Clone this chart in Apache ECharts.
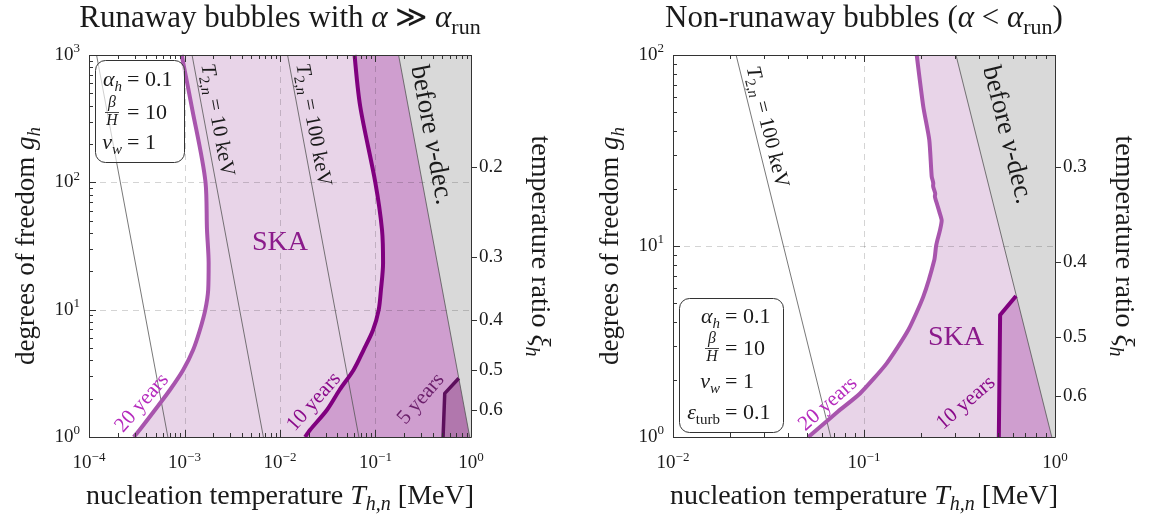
<!DOCTYPE html>
<html><head><meta charset="utf-8">
<script src="https://cdn.jsdelivr.net/npm/echarts@6/dist/echarts.min.js"></script>
<style>html,body{margin:0;padding:0;background:#fff}#c{width:1149px;height:525px}</style>
</head><body><div id="c"></div>
<script>
// ---------------- data (T in MeV, g = degrees of freedom) ----------------
// Left panel: runaway bubbles
const L_xRange = [1e-4, 1];
const L_yRange = [1, 1000];
const L_curve20 = [[9.33e-4,1000],[1.19e-3,394],[1.66e-3,100],[1.72e-3,42.3],[1.79e-3,23.3],[1.77e-3,14.3],[1.65e-3,9.95],[1.45e-3,6.92],[1.23e-3,4.82],[9.68e-4,3.36],[7.03e-4,2.34],[4.90e-4,1.63],[3.40e-4,1.14],[2.94e-4,1.0]];
const L_curve10 = [[6.04e-2,1000],[6.92e-2,394],[9.95e-2,100],[0.117,42.3],[0.120,23.3],[0.114,14.3],[0.108,9.95],[0.0942,6.92],[0.0750,4.82],[0.0589,3.36],[0.0420,2.34],[0.0310,1.63],[0.0207,1.14],[0.0183,1.0]];
const L_curve5 = [[0.510,1],[0.531,2.20],[0.745,2.89]];
const L_nuDec = [[0.1745,1000],[0.970,1]];
const L_T1keV = [[1.2e-4,1000],[6.7e-4,1]];
const L_T10keV = [[1.2e-3,1000],[6.7e-3,1]];
const L_T100keV = [[1.2e-2,1000],[6.7e-2,1]];
const L_xiLabels = ['0.2','0.3','0.4','0.5','0.6'];
const L_xiAtG = [132.8, 26.1, 8.3, 3.37, 1.63];

// Right panel: non-runaway bubbles
const R_xRange = [1e-2, 1];
const R_yRange = [1, 100];
const R_curve20 = [[0.1888,100],[0.2044,53.6],[0.2197,35.9],[0.2262,23.1],[0.2305,21.3],[0.2300,20.6],[0.2360,18.8],[0.2350,18.2],[0.2420,16.4],[0.2485,15.0],[0.2551,13.6],[0.2500,12.1],[0.2420,10.7],[0.2382,9.92],[0.2334,8.45],[0.2044,5.43],[0.1705,3.63],[0.1315,2.43],[0.0953,1.69],[0.0731,1.36],[0.0511,1.0]];
const R_curve10 = [[0.508,1],[0.516,4.35],[0.625,5.47]];
const R_nuDec = [[0.303,100],[0.962,1]];
const R_T100keV = [[0.0214,100],[0.067,1]];
const R_xiLabels = ['0.3','0.4','0.5','0.6'];
const R_xiAtG = [26.0, 8.28, 3.35, 1.63];

// ---------------- styling ----------------
const F = "'Liberation Serif','DejaVu Serif',serif";
const C_LIGHT = '#e8d4e8', C_MED = '#cf9ecf', C_DARK = '#b177ad', C_GRAY = '#d9d9d9';
const C_20 = '#a855ad', C_10 = '#80007f', C_5 = '#5c0f5c';
const C_THIN = '#555555';

function rich(s){
  const L = Math.round(s*1.3), ss = Math.round(s*0.7);
  return {
    r:{fontFamily:F,fontSize:s,lineHeight:L},
    i:{fontFamily:F,fontSize:s,lineHeight:L,fontStyle:'italic'},
    sb:{fontFamily:F,fontSize:ss,lineHeight:ss,verticalAlign:'bottom'},
    si:{fontFamily:F,fontSize:ss,lineHeight:ss,verticalAlign:'bottom',fontStyle:'italic'},
    sp:{fontFamily:F,fontSize:ss,lineHeight:ss,verticalAlign:'top'}
  };
}
function txt(x,y,text,size,color,rotDeg,align){
  return {type:'text', x:x, y:y, rotation:(rotDeg||0)*Math.PI/180, z:100, silent:true,
    style:{text:text, rich:rich(size), fontFamily:F, fontSize:size, fill:color||'#1a1a1a',
      align:align||'center', verticalAlign:'middle', textAlign:align||'center', textVerticalAlign:'middle'}};
}

function fillSeries(gi, pts, color, z){
  return {type:'custom', xAxisIndex:gi, yAxisIndex:gi, data:[pts[0]], z:z, silent:true, clip:true, animation:false,
    renderItem:function(p, api){
      return {type:'polygon', shape:{points:pts.map(function(q){return api.coord(q);})}, style:{fill:color}};
    }};
}
function lineSeries(gi, pts, color, width, smooth, z){
  return {type:'line', xAxisIndex:gi, yAxisIndex:gi, data:pts, symbol:'none', showSymbol:false, smooth:smooth,
    lineStyle:{color:color, width:width, cap:'butt', join:'round'}, z:z, silent:true, clip:true, animation:false};
}
function decorSeries(gi, xr, yr, xiG, xiL, kind, z){
  return {type:'custom', xAxisIndex:gi, yAxisIndex:gi, data:[[xr[0],yr[0]]], z:z, silent:true, clip:false, animation:false,
    renderItem:function(p, api){
      const lb = api.coord([xr[0],yr[0]]), rt = api.coord([xr[1],yr[1]]);
      const l=lb[0], b=lb[1], r=rt[0], t=rt[1];
      const ch = [];
      const ex0 = Math.round(Math.log10(xr[0])), ex1 = Math.round(Math.log10(xr[1]));
      const ey0 = Math.round(Math.log10(yr[0])), ey1 = Math.round(Math.log10(yr[1]));
      if (kind === 'grid') {
        const st = {stroke:'rgba(0,0,0,0.17)', lineWidth:1, lineDash:[6,5]};
        for (let e=ex0+1; e<ex1; e++){ const x=Math.round(api.coord([Math.pow(10,e),yr[0]])[0])+0.5;
          ch.push({type:'line', shape:{x1:x,y1:t,x2:x,y2:b}, style:st}); }
        for (let e=ey0+1; e<ey1; e++){ const y=Math.round(api.coord([xr[0],Math.pow(10,e)])[1])+0.5;
          ch.push({type:'line', shape:{x1:l,y1:y,x2:r,y2:y}, style:st}); }
      } else {
        const st = {stroke:'#333', lineWidth:1};
        for (let e=ex0; e<=ex1; e++) for (let k=1; k<=9; k++){
          const v = k*Math.pow(10,e); if (v > xr[1]*1.0001) break;
          const x = Math.round(api.coord([v,yr[0]])[0])+0.5, len = k===1?7:4;
          ch.push({type:'line', shape:{x1:x,y1:b,x2:x,y2:b-len}, style:st});
          ch.push({type:'line', shape:{x1:x,y1:t,x2:x,y2:t+len}, style:st});
        }
        for (let e=ey0; e<=ey1; e++) for (let k=1; k<=9; k++){
          const v = k*Math.pow(10,e); if (v > yr[1]*1.0001) break;
          const y = Math.round(api.coord([xr[0],v])[1])+0.5, len = k===1?7:4;
          ch.push({type:'line', shape:{x1:l,y1:y,x2:l+len,y2:y}, style:st});
        }
        xiG.forEach(function(g, idx){
          const y = Math.round(api.coord([xr[0],g])[1])+0.5;
          ch.push({type:'line', shape:{x1:r,y1:y,x2:r+6,y2:y}, style:st});
          ch.push({type:'text', x:r+8, y:y, style:{text:xiL[idx], fontFamily:F, fontSize:19, fill:'#1a1a1a', align:'left', verticalAlign:'middle', textAlign:'left', textVerticalAlign:'middle'}});
        });
        ch.push({type:'rect', shape:{x:Math.round(l)+0.5, y:Math.round(t)+0.5, width:Math.round(r-l), height:Math.round(b-t)}, style:{fill:null, stroke:'#333', lineWidth:1}});
      }
      return {type:'group', children:ch};
    }};
}

function expLabel(v){ const e = Math.round(Math.log10(v)); return '{b|10}{s|' + (e<0?'−'+(-e):e) + '}'; }
const tickRich = {b:{fontFamily:F,fontSize:19,lineHeight:25,color:'#1a1a1a'}, s:{fontFamily:F,fontSize:13,lineHeight:13,verticalAlign:'top',color:'#1a1a1a'}};

function xAx(gi, r){ return {type:'log', logBase:10, gridIndex:gi, min:r[0], max:r[1],
  axisLine:{show:false}, axisTick:{show:false}, splitLine:{show:false}, minorTick:{show:false},
  axisLabel:{show:true, margin:14, formatter:expLabel, rich:tickRich, fontFamily:F, fontSize:19, color:'#1a1a1a', showMinLabel:true, showMaxLabel:true}}; }
function yAx(gi, r){ return {type:'log', logBase:10, gridIndex:gi, min:r[0], max:r[1],
  axisLine:{show:false}, axisTick:{show:false}, splitLine:{show:false}, minorTick:{show:false},
  axisLabel:{show:true, margin:9, formatter:expLabel, rich:tickRich, fontFamily:F, fontSize:19, color:'#1a1a1a', showMinLabel:true, showMaxLabel:true}}; }

const series = [
  fillSeries(0, L_curve20.concat([[1,1],[1,1000]]), C_LIGHT, 1),
  fillSeries(0, L_curve10.concat([[1,1],[1,1000]]), C_MED, 2),
  fillSeries(0, L_curve5.concat([[1,2.89],[1,1]]), C_DARK, 3),
  fillSeries(0, L_nuDec.concat([[1,1],[1,1000]]), C_GRAY, 4),
  fillSeries(1, R_curve20.concat([[1,1],[1,100]]), C_LIGHT, 1),
  fillSeries(1, R_curve10.concat([[1,5.47],[1,1]]), C_MED, 3),
  fillSeries(1, R_nuDec.concat([[1,1],[1,100]]), C_GRAY, 4),
  decorSeries(0, L_xRange, L_yRange, L_xiAtG, L_xiLabels, 'grid', 5),
  decorSeries(1, R_xRange, R_yRange, R_xiAtG, R_xiLabels, 'grid', 5),
  lineSeries(0, L_T1keV, C_THIN, 0.8, false, 6),
  lineSeries(0, L_T10keV, C_THIN, 0.8, false, 6),
  lineSeries(0, L_T100keV, C_THIN, 0.8, false, 6),
  lineSeries(0, L_nuDec, C_THIN, 0.8, false, 6),
  lineSeries(1, R_T100keV, C_THIN, 0.8, false, 6),
  lineSeries(1, R_nuDec, C_THIN, 0.8, false, 6),
  lineSeries(0, L_curve20, C_20, 4, 0.3, 7),
  lineSeries(0, L_curve10, C_10, 4, 0.3, 7),
  lineSeries(0, L_curve5, C_5, 3.5, false, 7),
  lineSeries(1, R_curve20, C_20, 4, 0.2, 7),
  lineSeries(1, R_curve10, C_10, 4, false, 7),
  decorSeries(0, L_xRange, L_yRange, L_xiAtG, L_xiLabels, 'frame', 9),
  decorSeries(1, R_xRange, R_yRange, R_xiAtG, R_xiLabels, 'frame', 9)
];

function box(x,y,w,h){ return {type:'rect', z:90, silent:true, shape:{x:x+0.5,y:y+0.5,width:w,height:h,r:10}, style:{fill:'rgba(255,255,255,0.65)', stroke:'#333', lineWidth:1}}; }
function frac(cx, cy, size){
  return [
    txt(cx, cy-9, '{i|β}', size*0.72, '#1a1a1a'),
    {type:'line', z:100, silent:true, shape:{x1:cx-7,y1:cy+0.5,x2:cx+7,y2:cy+0.5}, style:{stroke:'#1a1a1a',lineWidth:0.8}},
    txt(cx, cy+9, '{i|H}', size*0.72, '#1a1a1a')
  ];
}

const PS = 22;
const graphics = [
  txt(280, 19, '{r|Runaway bubbles with }{i|α}{r| ≫ }{i|α}{sb|run}', 31),
  txt(864, 19, '{r|Non-runaway bubbles (}{i|α}{r| < }{i|α}{sb|run}{r|)}', 31),
  txt(280, 497, '{r|nucleation temperature }{i|T}{si|h,n}{r| [MeV]}', 28),
  txt(864, 497, '{r|nucleation temperature }{i|T}{si|h,n}{r| [MeV]}', 28),
  txt(27, 246, '{r|degrees of freedom }{i|g}{si|h}', 27, null, 90),
  txt(611, 246, '{r|degrees of freedom }{i|g}{si|h}', 27, null, 90),
  txt(539, 246, '{r|temperature ratio }{i|ξ}{si|h}', 28, null, -90),
  txt(1123, 246, '{r|temperature ratio }{i|ξ}{si|h}', 28, null, -90),
  txt(280, 243, '{r|SKA}', 28, '#8b1a8b'),
  txt(142, 403, '{r|20 years}', 21, '#b52bbd', 49),
  txt(314, 402, '{r|10 years}', 21, '#8a0a8a', 48.5),
  txt(421, 399, '{r|5 years}', 21, '#6b1f6b', 49),
  txt(217, 120, '{i|T}{sb|2,}{si|n}{r| = 10 keV}', 21, '#1a1a1a', -79.5),
  txt(313, 125, '{i|T}{sb|2,}{si|n}{r| = 100 keV}', 21, '#1a1a1a', -79.5),
  txt(431, 135, '{r|before }{i|ν}{r|-dec.}', 27, '#1a1a1a', -79.5),
  txt(767, 127, '{i|T}{sb|2,}{si|n}{r| = 100 keV}', 21, '#1a1a1a', -76),
  txt(1007, 135, '{r|before }{i|ν}{r|-dec.}', 27, '#1a1a1a', -76),
  txt(956, 338, '{r|SKA}', 28, '#8b1a8b'),
  txt(828, 404, '{r|20 years}', 21, '#b52bbd', 41.6),
  txt(966, 403, '{r|10 years}', 21, '#8a0a8a', 40.8),
  box(95, 60, 89, 102),
  txt(122, 80, '{i|α}{si|h}', PS, '#1a1a1a', 0, 'right'),
  txt(127, 80, '{r|= 0.1}', PS, '#1a1a1a', 0, 'left'),
  txt(127, 113, '{r|= 10}', PS, '#1a1a1a', 0, 'left'),
  txt(122, 143, '{i|v}{si|w}', PS, '#1a1a1a', 0, 'right'),
  txt(127, 143, '{r|= 1}', PS, '#1a1a1a', 0, 'left'),
  box(679, 298, 104, 134),
  txt(720, 317, '{i|α}{si|h}', PS, '#1a1a1a', 0, 'right'),
  txt(725, 317, '{r|= 0.1}', PS, '#1a1a1a', 0, 'left'),
  txt(725, 349, '{r|= 10}', PS, '#1a1a1a', 0, 'left'),
  txt(720, 382, '{i|v}{si|w}', PS, '#1a1a1a', 0, 'right'),
  txt(725, 382, '{r|= 1}', PS, '#1a1a1a', 0, 'left'),
  txt(720, 413, '{i|ε}{sb|turb}', PS, '#1a1a1a', 0, 'right'),
  txt(725, 413, '{r|= 0.1}', PS, '#1a1a1a', 0, 'left')
].concat(frac(112, 112, PS)).concat(frac(712, 348, PS));

const chart = echarts.init(document.getElementById('c'), null, {renderer:'canvas'});
chart.setOption({
  animation:false,
  backgroundColor:'#ffffff',
  textStyle:{fontFamily:F},
  grid:[
    {left:89, top:55, width:382, height:382, containLabel:false},
    {left:673, top:55, width:382, height:382, containLabel:false}
  ],
  xAxis:[xAx(0, L_xRange), xAx(1, R_xRange)],
  yAxis:[yAx(0, L_yRange), yAx(1, R_yRange)],
  series:series,
  graphic:graphics
});
</script></body></html>
